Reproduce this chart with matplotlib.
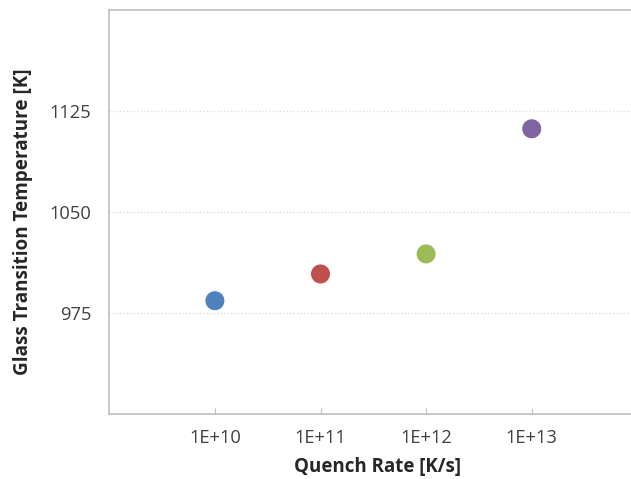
import numpy as np
import matplotlib.pyplot as plt

# quench rate [K/s] vs glass transition temperature [K]
quench_rate = [1e10, 1e11, 1e12, 1e13]
tg = [983.9, 1003.8, 1018.7, 1111.8]
colors = ['#4F81BD', '#C0504D', '#9BBB59', '#8064A2']
xtick_vals = [1e10, 1e11, 1e12, 1e13]
xtick_labels = ['1E+10', '1E+11', '1E+12', '1E+13']
ytick_vals = [975, 1050, 1125]

plt.rcParams['font.family'] = ['Open Sans', 'DejaVu Sans']

fig = plt.figure(figsize=(6.31, 4.79), dpi=100)
ax = fig.add_axes([0.1732, 0.1367, 0.8268, 0.842])

ax.scatter(quench_rate, tg, s=210, c=colors, edgecolors='white', linewidths=0.8, zorder=3)

ax.set_xscale('log')
ax.set_xlim(1e9, 10 ** 13.94)
ax.set_ylim(900, 1200)
ax.set_xticks(xtick_vals)
ax.set_xticklabels(xtick_labels)
ax.minorticks_off()
ax.set_yticks(ytick_vals)

ax.yaxis.grid(True, linestyle=(0, (1, 1.5)), color='#E0DED0', linewidth=1)
ax.set_axisbelow(True)

for s in ['left', 'bottom', 'top']:
    ax.spines[s].set_color('#BFBFBF')
    ax.spines[s].set_linewidth(1.2)
ax.spines['right'].set_visible(False)

ax.tick_params(axis='x', direction='in', length=4, color='#BFBFBF', pad=11,
               labelsize=13.2, labelcolor='#404040')
ax.tick_params(axis='y', length=0, pad=13, labelsize=13.2, labelcolor='#404040')

ax.set_xlabel('Quench Rate [K/s]', fontsize=13.5, fontweight='bold', color='#262626')
ax.set_ylabel('Glass Transition Temperature [K]', fontsize=13.6, fontweight='bold',
              color='#262626')
ax.xaxis.set_label_coords(0.515, -0.108)
ax.yaxis.set_label_coords(-0.147, 0.476)

fig.savefig('out.png', dpi=100)
